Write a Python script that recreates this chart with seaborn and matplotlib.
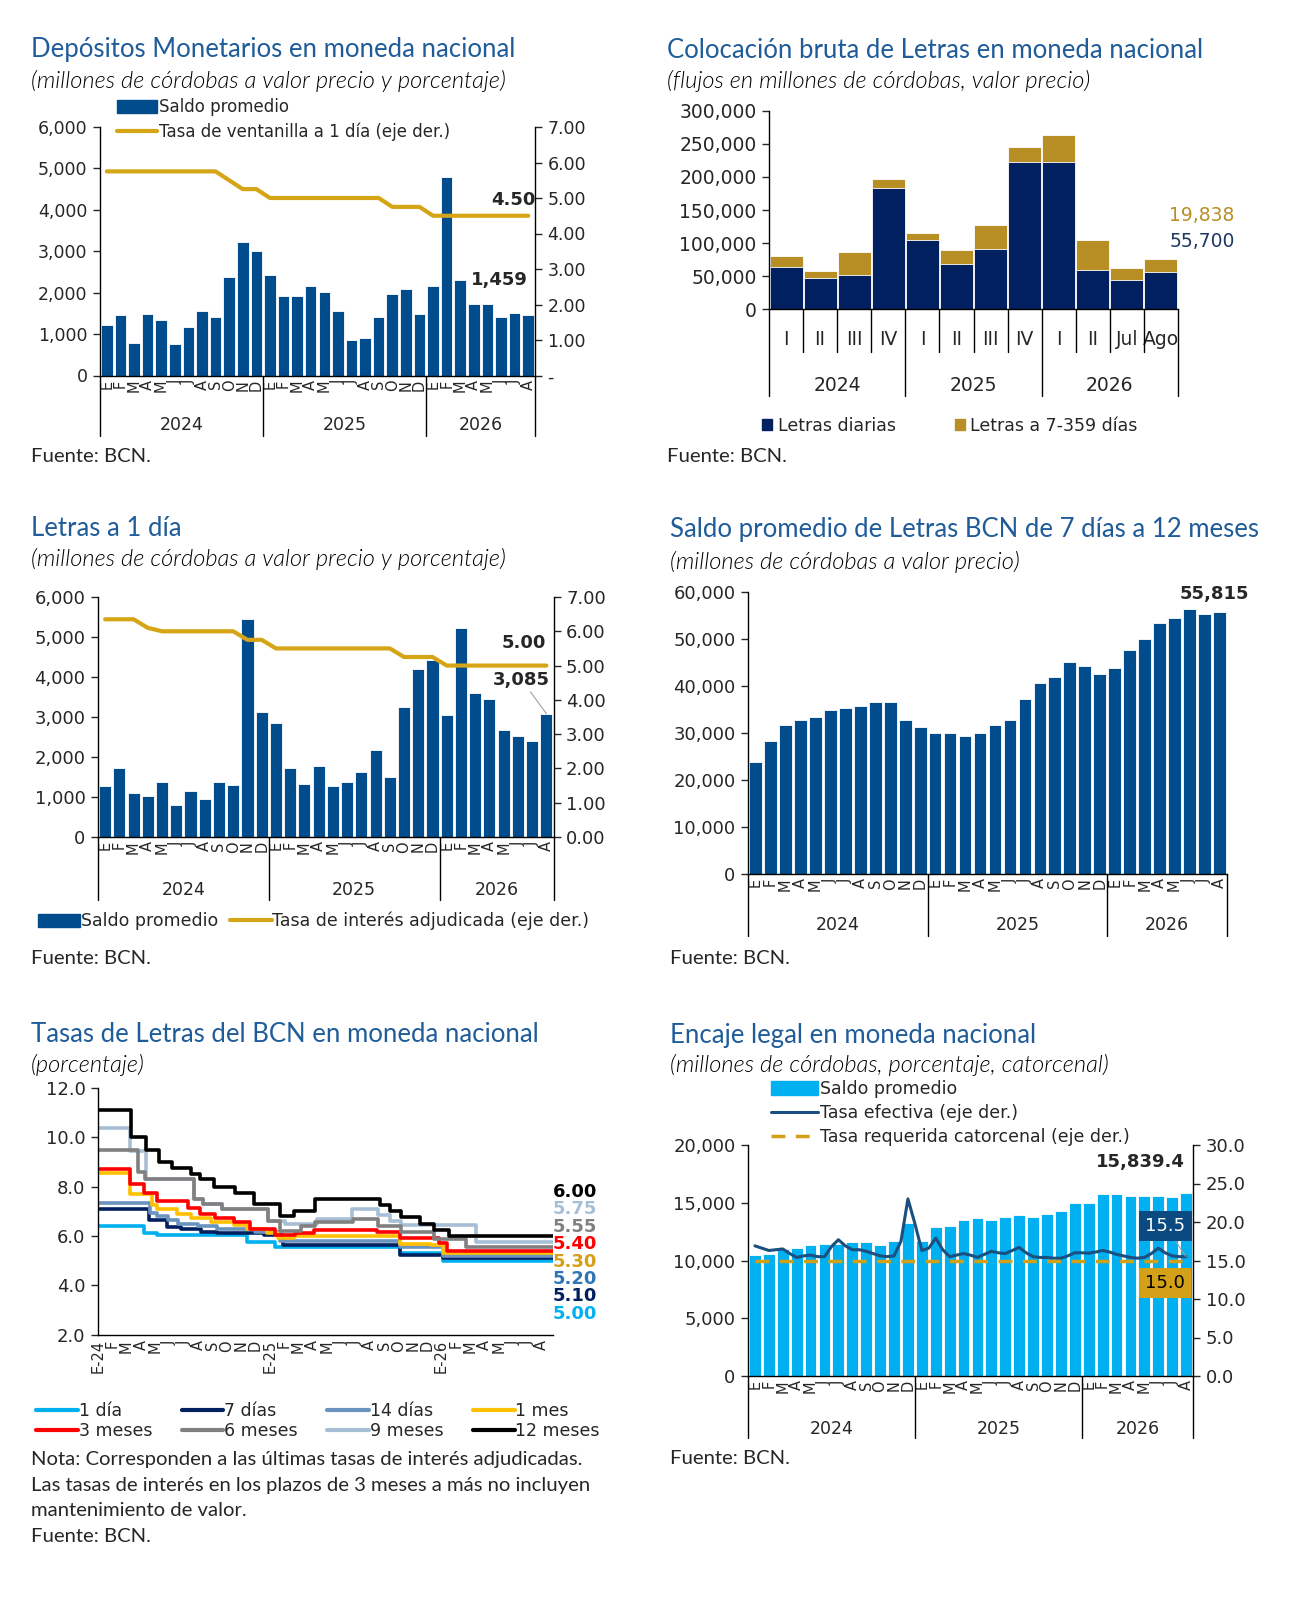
import numpy as np
import pandas as pd
import matplotlib
matplotlib.use("Agg")
import matplotlib.pyplot as plt
import seaborn as sns
from matplotlib.lines import Line2D
from matplotlib.patches import Patch
from matplotlib.ticker import FuncFormatter

# ---------------- datos ----------------
meses = ['E', 'F', 'M', 'A', 'M', 'J', 'J', 'A', 'S', 'O', 'N', 'D',
         'E', 'F', 'M', 'A', 'M', 'J', 'J', 'A', 'S', 'O', 'N', 'D',
         'E', 'F', 'M', 'A', 'M', 'J', 'J', 'A']
meses_tasas = ['E-24', 'F', 'M', 'A', 'M', 'J', 'J', 'A', 'S', 'O', 'N', 'D',
               'E-25', 'F', 'M', 'A', 'M', 'J', 'J', 'A', 'S', 'O', 'N', 'D',
               'E-26', 'F', 'M', 'A', 'M', 'J', 'J', 'A']
anios = ['2024', '2025', '2026']

# 1. Depositos monetarios
dep_saldo = [1230, 1450, 780, 1480, 1340, 750, 1160, 1550, 1410, 2380, 3220, 3010,
             2420, 1910, 1910, 2150, 2020, 1560, 850, 910, 1410, 1970, 2090, 1490,
             2160, 4800, 2300, 1730, 1730, 1410, 1520, 1459]
dep_tasa = [5.75, 5.75, 5.75, 5.75, 5.75, 5.75, 5.75, 5.75, 5.75, 5.50, 5.25, 5.25,
            5.00, 5.00, 5.00, 5.00, 5.00, 5.00, 5.00, 5.00, 5.00, 4.75, 4.75, 4.75,
            4.50, 4.50, 4.50, 4.50, 4.50, 4.50, 4.50, 4.50]

# 2. Colocacion bruta de Letras
col_labels = ['I', 'II', 'III', 'IV', 'I', 'II', 'III', 'IV', 'I', 'II', 'Jul', 'Ago']
col_anio_centros = [1.5, 5.5, 9.5]
col_diarias = [64600, 46800, 51300, 183500, 104200, 69100, 91000, 223200,
               223200, 60000, 44700, 55700]
col_letras = [15200, 11200, 35600, 13200, 11200, 19900, 35600, 21800,
              39600, 44200, 17800, 19838]

# 3. Letras a 1 dia
l1_saldo = [1285, 1736, 1110, 1035, 1369, 810, 1152, 960, 1369, 1294, 5450, 3122,
            2846, 1728, 1327, 1770, 1285, 1369, 1628, 2187, 1511, 3255, 4199, 4424,
            3038, 5217, 3598, 3447, 2663, 2521, 2404, 3085]
l1_tasa = [6.35, 6.35, 6.35, 6.10, 6.00, 6.00, 6.00, 6.00, 6.00, 6.00, 5.75, 5.75,
           5.50, 5.50, 5.50, 5.50, 5.50, 5.50, 5.50, 5.50, 5.50, 5.25, 5.25, 5.25,
           5.00, 5.00, 5.00, 5.00, 5.00, 5.00, 5.00, 5.00]

# 4. Saldo Letras 7 dias a 12 meses
l7_saldo = [23800, 28300, 31800, 32800, 33500, 35000, 35300, 35700, 36500, 36500, 32700, 31200,
            29900, 29900, 29300, 29900, 31800, 32700, 37200, 40700, 41900, 45200, 44200, 42600,
            43900, 47600, 49900, 53400, 54400, 56300, 55300, 55815]

# 5. Tasas de Letras (cambios: mes desde E-24, tasa)
fin_tasas = 31.8
t_1dia_x = [0, 3.2, 4.1, 10.4, 12.4, 21.1, 24.1]
t_1dia_v = [6.40, 6.13, 6.03, 5.76, 5.56, 5.30, 5.00]
t_7dias_x = [0, 3.56, 4.84, 5.8, 7.2, 8.3, 11.6, 12.9, 21.1, 24.1]
t_7dias_v = [7.10, 6.63, 6.36, 6.27, 6.16, 6.13, 6.03, 5.65, 5.24, 5.10]
t_14dias_x = [0, 3.6, 4.1, 4.9, 5.6, 7.0, 8.3, 11.0, 12.7, 21.1, 24.1]
t_14dias_v = [7.35, 6.95, 6.80, 6.63, 6.50, 6.40, 6.30, 6.15, 5.78, 5.56, 5.20]
t_1mes_x = [0, 2.23, 3.8, 4.1, 5.5, 6.5, 7.9, 9.5, 10.4, 11.8, 12.6, 13.7, 21.1, 23.3, 24.1]
t_1mes_v = [8.55, 7.71, 7.27, 7.10, 6.90, 6.73, 6.57, 6.43, 6.30, 6.10, 5.92, 6.00, 5.69, 5.62, 5.30]
t_3meses_x = [0, 2.27, 3.2, 4.1, 6.3, 7.1, 8.2, 9.5, 10.6, 12.4, 13.8, 15.1, 19.5, 21.1, 23.8, 24.4]
t_3meses_v = [8.70, 8.10, 7.76, 7.40, 7.14, 6.91, 6.73, 6.56, 6.29, 6.03, 6.12, 6.25, 6.15, 5.90, 5.70, 5.40]
t_6meses_x = [0, 2.8, 3.3, 6.7, 7.35, 8.7, 11.9, 12.7, 14.2, 15.2, 17.8, 19.6, 21.2, 23.5, 25.7]
t_6meses_v = [9.50, 8.60, 8.30, 7.50, 7.30, 7.10, 6.60, 6.20, 6.40, 6.55, 6.70, 6.42, 6.16, 5.89, 5.55]
t_9meses_x = [0, 2.23, 3.33, 6.7, 7.35, 8.7, 11.9, 13.1, 15.3, 17.75, 19.6, 20.4, 21.2, 26.4]
t_9meses_v = [10.36, 9.46, 8.30, 7.50, 7.30, 7.10, 6.60, 6.50, 6.70, 7.10, 6.84, 6.60, 6.43, 5.75]
t_12meses_x = [0, 2.33, 3.33, 4.26, 5.19, 6.47, 7.16, 8.14, 9.6, 10.9, 12.74, 13.67, 15.19,
               19.68, 20.43, 21.19, 22.47, 23.45, 24.5]
t_12meses_v = [11.10, 10.00, 9.50, 9.00, 8.75, 8.50, 8.30, 8.00, 7.75, 7.30, 6.80, 7.00, 7.50,
               7.25, 7.00, 6.75, 6.50, 6.25, 6.00]

# 6. Encaje legal
enc_saldo = [10440, 10550, 10960, 11080, 11340, 11450, 11450, 11600, 11600, 11340, 11720, 13290,
             11720, 12880, 13000, 13520, 13660, 13520, 13780, 13900, 13780, 14060, 14300, 14940,
             14940, 15730, 15730, 15580, 15580, 15580, 15470, 15839.4]
enc_tasa = [16.9, 16.6, 16.3, 16.4, 16.5, 15.9, 15.4, 15.6, 15.7, 15.5,
            15.5, 16.8, 17.7, 16.9, 16.4, 16.4, 16.2, 15.9, 15.6, 15.5,
            15.6, 17.5, 23.0, 19.8, 16.3, 16.6, 17.9, 16.4, 15.5, 15.7,
            15.9, 15.7, 15.4, 15.8, 16.2, 16.0, 15.9, 16.3, 16.7, 16.0,
            15.5, 15.4, 15.4, 15.3, 15.3, 15.6, 16.0, 16.0, 15.95, 16.1,
            16.3, 16.1, 15.8, 15.6, 15.4, 15.3, 15.4, 15.9, 16.6, 16.0,
            15.6, 15.5, 15.5]
enc_tasa_mes = np.arange(len(enc_tasa)) / 2  # catorcenas, en meses
enc_requerida = 15.0

# ---------------- estilo ----------------
sns.set_theme(style="white")
plt.rcParams['font.family'] = ['DejaVu Sans']
plt.rcParams['axes.linewidth'] = 1.0
plt.rcParams['axes.edgecolor'] = 'black'

AZUL_TIT = '#1F5C99'
AZUL_BARRA = '#004C8C'
ORO = '#D6A516'
NAVY = '#002060'
ORO2 = '#B78F25'
CELESTE = '#00B0F0'
LETRA = ['Lato', 'DejaVu Sans']
MES_FS = 10.5

W, H = 1316, 1622
fig = plt.figure(figsize=(W / 100, H / 100), dpi=100)
fig.patch.set_facecolor('white')

miles = FuncFormatter(lambda v, p: f'{v:,.0f}')
limites_anio = [-0.5, 11.5, 23.5, 31.5]
centros_anio = [5.5, 17.5, 27.5]


def caja(l, t, r, b):
    return fig.add_axes([l / W, 1 - b / H, (r - l) / W, (b - t) / H])


def texto(x, y, s, **kw):
    fig.text(x / W, 1 - y / H, s, va='center', **kw)


def encabezado(x, y, titulo, sub, dy=31):
    texto(x, y, titulo, fontsize=18.5, color=AZUL_TIT, family=LETRA)
    texto(x, y + dy, sub, fontsize=17, style='italic', fontweight=300, family=LETRA,
          color='black')


def eje_meses(ax, alto, dy_anio, dy_sep):
    ax.set_xticks(range(len(meses)))
    ax.set_xticklabels(meses, rotation=90, fontsize=MES_FS)
    ax.tick_params(axis='x', length=0, pad=3, bottom=False)
    tr = ax.get_xaxis_transform()
    for b in limites_anio:
        ax.plot([b, b], [0, -dy_sep / alto], transform=tr, color='black', lw=1, clip_on=False)
    for c, a in zip(centros_anio, anios):
        ax.text(c, -dy_anio / alto, a, transform=tr, ha='center', va='center', fontsize=12.5)
    ax.set_xlim(-0.5, 31.5)
    ax.set_xlabel('')


def barras(ax, valores, color, width=0.85):
    sns.barplot(x=list(range(len(valores))), y=valores, color=color, saturation=1,
                width=width, edgecolor='white', linewidth=0.6, errorbar=None, ax=ax)


def ejes_y(ax, lado='left', size=12.5):
    if lado == 'left':
        ax.tick_params(axis='y', left=True, right=False, direction='out', length=5,
                       width=1, labelsize=size, pad=4)
    else:
        ax.tick_params(axis='y', right=True, left=False, direction='out', length=5,
                       width=1, labelsize=size, pad=4)
    ax.set_ylabel('')


def fuente(x, y):
    texto(x, y, 'Fuente: BCN.', fontsize=14.6, family=LETRA)


# ================= Panel 1 =================
encabezado(31, 50, 'Depósitos Monetarios en moneda nacional',
           '(millones de córdobas a valor precio y porcentaje)')
ax = caja(100, 127, 535, 375.5)
barras(ax, dep_saldo, AZUL_BARRA)
ax.set_ylim(0, 6000)
ax.set_yticks(range(0, 6001, 1000))
ax.yaxis.set_major_formatter(miles)
ejes_y(ax)
eje_meses(ax, 248.5, 50, 60)
ax2 = ax.twinx()
sns.lineplot(x=list(range(32)), y=dep_tasa, color=ORO, linewidth=3, ax=ax2)
ax2.set_ylim(0, 7)
ax2.set_yticks(range(0, 8))
ax2.set_yticklabels(['-'] + [f'{v:.2f}' for v in range(1, 8)])
ejes_y(ax2, 'right')
ax.set_xlim(-0.5, 31.5)
ax.spines['top'].set_visible(False)
ax.spines['right'].set_visible(False)
ax2.spines['top'].set_visible(False)
ax2.spines['left'].set_visible(False)
ax2.spines['bottom'].set_visible(False)
ax2.annotate(f'{dep_tasa[-1]:.2f}', xy=(31, dep_tasa[-1]), xytext=(5, 11),
             textcoords='offset points', ha='right', va='center', fontweight='bold', fontsize=13)
ax.annotate(f'{dep_saldo[-1]:,}', xy=(31, dep_saldo[-1]), xytext=(0, 25),
            textcoords='offset points', ha='right', va='center', fontweight='bold', fontsize=13)
fig.legend([Patch(color=AZUL_BARRA), Line2D([], [], color=ORO, lw=3)],
           ['Saldo promedio', 'Tasa de ventanilla a 1 día (eje der.)'],
           loc='upper left', bbox_to_anchor=(117 / W, 1 - 98 / H), frameon=False, fontsize=12,
           handlelength=2.4, handleheight=0.8, handletextpad=0.1, labelspacing=0.4,
           borderpad=0, borderaxespad=0)
fuente(31, 456)

# ================= Panel 2 =================
encabezado(667, 50, 'Colocación bruta de Letras en moneda nacional',
           '(flujos en millones de córdobas, valor precio)')
ax = caja(769, 110.7, 1178, 309.3)
col_total = np.add(col_diarias, col_letras)
barras(ax, col_total, ORO2, width=0.97)
barras(ax, col_diarias, NAVY, width=0.97)
ax.set_ylim(0, 300000)
ax.set_yticks(range(0, 300001, 50000))
ax.yaxis.set_major_formatter(miles)
ejes_y(ax, size=13.5)
ax.set_xlim(-0.5, 11.5)
ax.set_xticks(range(12))
ax.set_xticklabels(col_labels, fontsize=13.5)
ax.tick_params(axis='x', length=0, pad=15, bottom=False)
ax.set_xlabel('')
ax.spines['top'].set_visible(False)
ax.spines['right'].set_visible(False)
tr = ax.get_xaxis_transform()
alto2 = 309.3 - 110.7
for k in range(13):
    b = k - 0.5
    largo = 87 if k in (0, 4, 8, 12) else 43
    ax.plot([b, b], [0, -largo / alto2], transform=tr, color='black', lw=1, clip_on=False)
for c, a in zip(col_anio_centros, anios):
    ax.text(c, -76 / alto2, a, transform=tr, ha='center', va='center', fontsize=13.5)
ax.text(11.25, 142000, f'{col_letras[-1]:,}', color=ORO2, fontsize=13.5, va='center')
ax.text(11.25, 101700, f'{col_diarias[-1]:,}', color='#1F3864', fontsize=13.5, va='center')
fig.legend([Patch(color=NAVY), Patch(color=ORO2)], ['Letras diarias', 'Letras a 7-359 días'],
           loc='center left', bbox_to_anchor=(762 / W, 1 - 426 / H), ncol=2, frameon=False,
           fontsize=12.5, handlelength=0.6, handleheight=0.6, handletextpad=0.3,
           columnspacing=3.4, borderpad=0, borderaxespad=0)
fuente(667, 456)

# ================= Panel 3 =================
encabezado(31, 529, 'Letras a 1 día', '(millones de córdobas a valor precio y porcentaje)', dy=30)
ax = caja(98, 597, 553.5, 837)
barras(ax, l1_saldo, AZUL_BARRA)
ax.set_ylim(0, 6000)
ax.set_yticks(range(0, 6001, 1000))
ax.yaxis.set_major_formatter(miles)
ejes_y(ax, size=13)
eje_meses(ax, 240, 53, 63)
ax2 = ax.twinx()
sns.lineplot(x=list(range(32)), y=l1_tasa, color=ORO, linewidth=3, ax=ax2)
ax2.set_ylim(0, 7)
ax2.set_yticks(range(0, 8))
ax2.set_yticklabels([f'{v:.2f}' for v in range(0, 8)])
ejes_y(ax2, 'right', size=13)
ax.set_xlim(-0.5, 31.5)
ax.spines['top'].set_visible(False)
ax.spines['right'].set_visible(False)
ax2.spines['top'].set_visible(False)
ax2.spines['left'].set_visible(False)
ax2.spines['bottom'].set_visible(False)
ax2.annotate(f'{l1_tasa[-1]:.2f}', xy=(31, l1_tasa[-1]), xytext=(0, 16),
             textcoords='offset points', ha='right', va='center', fontweight='bold', fontsize=13)
ax.annotate(f'{l1_saldo[-1]:,}', xy=(31, l1_saldo[-1]), xytext=(-18, 18),
            textcoords='offset points', ha='center', va='bottom', fontweight='bold', fontsize=13,
            arrowprops=dict(arrowstyle='-', color='#A0A0A0', lw=0.8, shrinkA=0, shrinkB=0))
fig.legend([Patch(color=AZUL_BARRA), Line2D([], [], color=ORO, lw=3)],
           ['Saldo promedio', 'Tasa de interés adjudicada (eje der.)'],
           loc='center left', bbox_to_anchor=(38 / W, 1 - 921 / H), ncol=2, frameon=False,
           fontsize=12.5, handlelength=2.4, handleheight=0.8, handletextpad=0.05,
           columnspacing=0.7, borderpad=0, borderaxespad=0)
fuente(31, 959)

# ================= Panel 4 =================
encabezado(670, 529, 'Saldo promedio de Letras BCN de 7 días a 12 meses',
           '(millones de córdobas a valor precio)', dy=33)
ax = caja(748, 592, 1227, 874)
barras(ax, l7_saldo, AZUL_BARRA)
ax.set_ylim(0, 60000)
ax.set_yticks(range(0, 60001, 10000))
ax.yaxis.set_major_formatter(miles)
ejes_y(ax, size=13)
eje_meses(ax, 282, 51, 62)
ax.spines['top'].set_visible(False)
ax.spines['right'].set_visible(False)
ax.annotate(f'{l7_saldo[-1]:,}', xy=(31, l7_saldo[-1]), xytext=(21, 13),
            textcoords='offset points', ha='right', va='center', fontweight='bold', fontsize=13)
fuente(670, 959)

# ================= Panel 5 =================
encabezado(31, 1035, 'Tasas de Letras del BCN en moneda nacional', '(porcentaje)', dy=30)
ax = caja(98, 1088, 553, 1334.6)
series = [
    ('9 meses', t_9meses_x, t_9meses_v, '#A6BFD6'),
    ('1 día', t_1dia_x, t_1dia_v, CELESTE),
    ('7 días', t_7dias_x, t_7dias_v, NAVY),
    ('14 días', t_14dias_x, t_14dias_v, '#6A93BE'),
    ('1 mes', t_1mes_x, t_1mes_v, '#FFC000'),
    ('3 meses', t_3meses_x, t_3meses_v, '#FF0000'),
    ('6 meses', t_6meses_x, t_6meses_v, '#808080'),
    ('12 meses', t_12meses_x, t_12meses_v, '#000000'),
]
handles = {}
for nombre, xs, vs, c in series:
    df = pd.DataFrame({'mes': xs + [fin_tasas], 'tasa': vs + [vs[-1]]})
    sns.lineplot(data=df, x='mes', y='tasa', drawstyle='steps-post', color=c,
                 linewidth=2.6, ax=ax)
    handles[nombre] = Line2D([], [], color=c, lw=3)
ax.set_xlim(0, fin_tasas)
ax.set_ylim(2, 12)
ax.set_yticks(range(2, 13, 2))
ax.set_yticklabels([f'{v:.1f}' for v in range(2, 13, 2)])
ejes_y(ax, size=13)
ax.set_xticks(range(len(meses_tasas)))
ax.set_xticklabels(meses_tasas, rotation=90, fontsize=MES_FS)
ax.tick_params(axis='x', length=0, pad=4, bottom=False)
ax.set_xlabel('')
ax.spines['top'].set_visible(False)
ax.spines['right'].set_visible(False)
finales = [('12 meses', t_12meses_v, '#000000'), ('9 meses', t_9meses_v, '#A6BFD6'),
           ('6 meses', t_6meses_v, '#808080'), ('3 meses', t_3meses_v, '#FF0000'),
           ('1 mes', t_1mes_v, '#D4A017'), ('14 días', t_14dias_v, '#2E75B6'),
           ('7 días', t_7dias_v, NAVY), ('1 día', t_1dia_v, CELESTE)]
for i, (n, vs, c) in enumerate(finales):
    ax.text(1.0, 7.78 - i * 0.705, f'{vs[-1]:.2f}', transform=ax.get_yaxis_transform(),
            color=c, fontweight='bold', fontsize=13, ha='left', va='center')
orden = ['1 día', '3 meses', '7 días', '6 meses', '14 días', '9 meses', '1 mes', '12 meses']
fig.legend([handles[n] for n in orden], orden, loc='upper left',
           bbox_to_anchor=(36 / W, 1 - 1402 / H), ncol=4, frameon=False, fontsize=12.5,
           handlelength=2.4, handletextpad=0.05, columnspacing=1.7, labelspacing=0.1,
           borderpad=0, borderaxespad=0)
nota = ['Nota: Corresponden a las últimas tasas de interés adjudicadas.',
        'Las tasas de interés en los plazos de 3 meses a más no incluyen',
        'mantenimiento de valor.']
for i, linea in enumerate(nota):
    texto(31, 1460 + i * 25.5, linea, fontsize=14.6, family=LETRA)
fuente(31, 1536)

# ================= Panel 6 =================
encabezado(670, 1035, 'Encaje legal en moneda nacional',
           '(millones de córdobas, porcentaje, catorcenal)', dy=30)
ax = caja(748, 1145, 1193, 1376)
barras(ax, enc_saldo, CELESTE)
ax.set_ylim(0, 20000)
ax.set_yticks(range(0, 20001, 5000))
ax.yaxis.set_major_formatter(miles)
ejes_y(ax, size=13)
eje_meses(ax, 231, 53, 62)
ax2 = ax.twinx()
sns.lineplot(x=enc_tasa_mes, y=enc_tasa, color='#1A4F80', linewidth=2.2, ax=ax2)
ax2.hlines(enc_requerida, 0, 31, colors='#D4A017', linestyles=(0, (4, 3)), linewidth=2.5)
ax2.set_ylim(0, 30)
ax2.set_yticks(range(0, 31, 5))
ax2.set_yticklabels([f'{v:.1f}' for v in range(0, 31, 5)])
ejes_y(ax2, 'right', size=13)
ax.set_xlim(-0.5, 31.5)
ax.spines['top'].set_visible(False)
ax.spines['right'].set_visible(False)
ax2.spines['top'].set_visible(False)
ax2.spines['left'].set_visible(False)
ax2.spines['bottom'].set_visible(False)
ax.annotate(f'{enc_saldo[-1]:,.1f}', xy=(31, enc_saldo[-1]), xytext=(-1, 22),
            textcoords='offset points', ha='right', va='center', fontweight='bold', fontsize=13)
ax2.annotate(f'{enc_tasa[-1]:.1f}', xy=(enc_tasa_mes[-1], enc_tasa[-1]), xytext=(29.5, 19.5),
             textcoords='data', ha='center', va='center', color='white', fontsize=13,
             bbox=dict(boxstyle='square,pad=0.35', fc='#0A4A80', ec='none'),
             arrowprops=dict(arrowstyle='-', color='#A0A0A0', lw=0.8, shrinkA=0, shrinkB=0))
ax2.text(29.5, 12.1, f'{enc_requerida:.1f}', ha='center', va='center', color='black', fontsize=13,
         bbox=dict(boxstyle='square,pad=0.35', fc='#D4A017', ec='none'))
fig.legend([Patch(color=CELESTE), Line2D([], [], color='#1A4F80', lw=2.2),
            Line2D([], [], color='#D4A017', lw=2.5, ls=(0, (4, 3)))],
           ['Saldo promedio', 'Tasa efectiva (eje der.)', 'Tasa requerida catorcenal (eje der.)'],
           loc='upper left', bbox_to_anchor=(771 / W, 1 - 1080 / H), frameon=False,
           fontsize=12.5, handlelength=2.7, handleheight=0.8, handletextpad=0.1,
           labelspacing=0.35, borderpad=0, borderaxespad=0)
fuente(670, 1459)

fig.savefig('out.png', dpi=100, facecolor='white')
